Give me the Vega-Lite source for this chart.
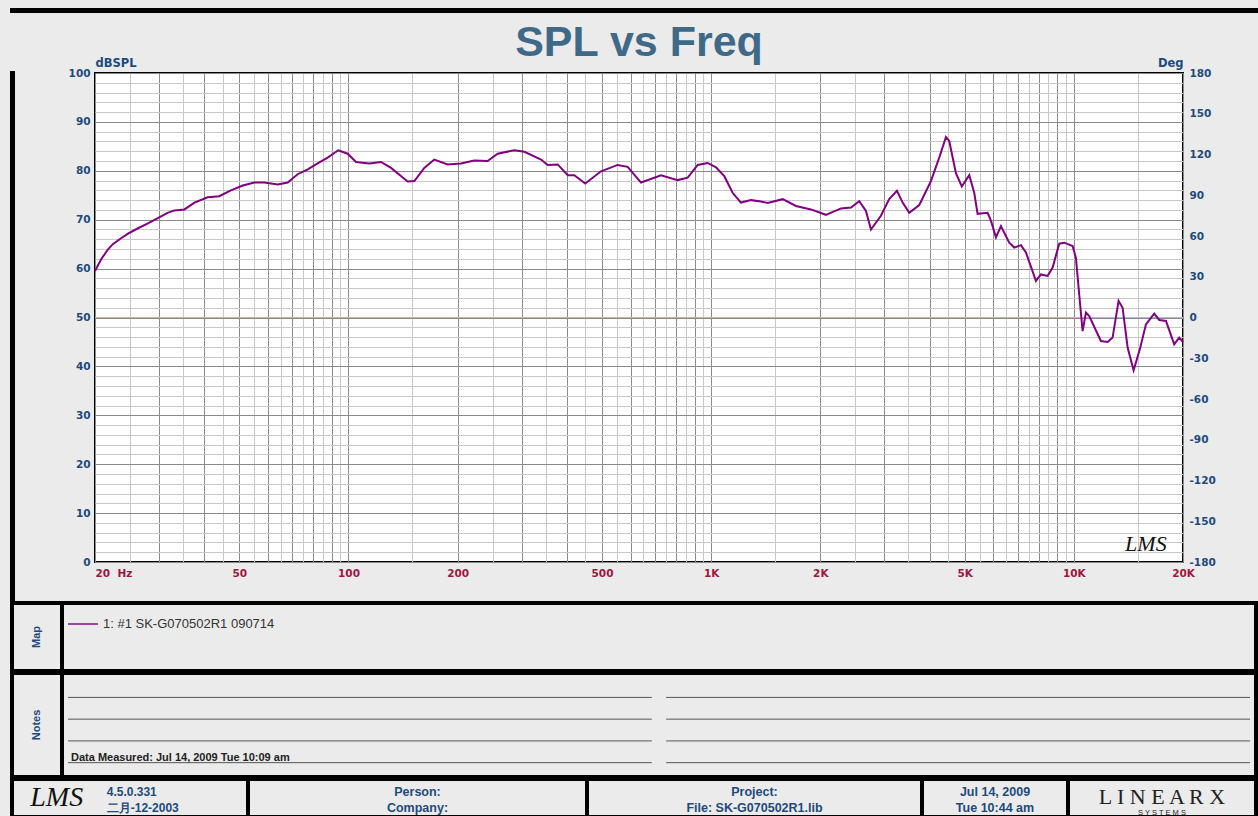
{
  "$schema": "https://vega.github.io/schema/vega-lite/v6.json",
  "background": "#ebebeb",
  "padding": {"left": 10, "top": 8, "right": 0, "bottom": 0},
  "spacing": 8,
  "config": {"view": {"stroke": null}},
  "resolve": {"scale": {"color": "independent"}, "legend": {"color": "independent"}},
  "datasets": {
    "spl": [
      {"f": 20, "spl": 59.5}, {"f": 20.8, "spl": 61.9}, {"f": 21.7, "spl": 63.9}, {"f": 22.4, "spl": 65.0},
      {"f": 23.6, "spl": 66.2}, {"f": 24.6, "spl": 67.1}, {"f": 26.2, "spl": 68.2}, {"f": 27.9, "spl": 69.2},
      {"f": 29.8, "spl": 70.3}, {"f": 31.7, "spl": 71.4}, {"f": 33.1, "spl": 71.9}, {"f": 35.3, "spl": 72.1},
      {"f": 37.6, "spl": 73.5}, {"f": 40.9, "spl": 74.6}, {"f": 44.0, "spl": 74.8}, {"f": 47.4, "spl": 76.0},
      {"f": 51.1, "spl": 77.0}, {"f": 55.0, "spl": 77.6}, {"f": 58.6, "spl": 77.6}, {"f": 63.8, "spl": 77.2},
      {"f": 68.0, "spl": 77.6}, {"f": 72.4, "spl": 79.3}, {"f": 77.2, "spl": 80.3}, {"f": 82.2, "spl": 81.5},
      {"f": 87.6, "spl": 82.7}, {"f": 93.7, "spl": 84.2}, {"f": 99.5, "spl": 83.5}, {"f": 104.9, "spl": 81.8},
      {"f": 114.1, "spl": 81.5}, {"f": 122.9, "spl": 81.8}, {"f": 131.0, "spl": 80.6}, {"f": 145.6, "spl": 77.8},
      {"f": 151.9, "spl": 77.9}, {"f": 161.8, "spl": 80.6}, {"f": 172.4, "spl": 82.3}, {"f": 187.7, "spl": 81.3},
      {"f": 204.2, "spl": 81.5}, {"f": 222.2, "spl": 82.1}, {"f": 241.9, "spl": 82.0}, {"f": 257.8, "spl": 83.5},
      {"f": 286.5, "spl": 84.2}, {"f": 305.5, "spl": 83.9}, {"f": 339.5, "spl": 82.3}, {"f": 354.2, "spl": 81.2},
      {"f": 377.5, "spl": 81.3}, {"f": 402.3, "spl": 79.1}, {"f": 419.5, "spl": 79.1}, {"f": 449.6, "spl": 77.4},
      {"f": 496.9, "spl": 79.9}, {"f": 552.2, "spl": 81.2}, {"f": 588.6, "spl": 80.8}, {"f": 640.5, "spl": 77.6},
      {"f": 727.2, "spl": 79.1}, {"f": 808.6, "spl": 78.1}, {"f": 861.5, "spl": 78.6}, {"f": 918.0, "spl": 81.2},
      {"f": 978.4, "spl": 81.6}, {"f": 1031, "spl": 80.7}, {"f": 1087, "spl": 78.9}, {"f": 1146, "spl": 75.5},
      {"f": 1208, "spl": 73.5}, {"f": 1288, "spl": 74.0}, {"f": 1372, "spl": 73.7}, {"f": 1432, "spl": 73.4},
      {"f": 1575, "spl": 74.2}, {"f": 1713, "spl": 72.8}, {"f": 1884, "spl": 72.1}, {"f": 2072, "spl": 71.0},
      {"f": 2280, "spl": 72.3}, {"f": 2430, "spl": 72.5}, {"f": 2561, "spl": 73.8}, {"f": 2672, "spl": 71.8},
      {"f": 2758, "spl": 68.0}, {"f": 2938, "spl": 70.8}, {"f": 3097, "spl": 74.2}, {"f": 3253, "spl": 75.9},
      {"f": 3373, "spl": 73.5}, {"f": 3518, "spl": 71.4}, {"f": 3748, "spl": 73.0}, {"f": 4036, "spl": 77.9},
      {"f": 4255, "spl": 82.7}, {"f": 4440, "spl": 86.9}, {"f": 4534, "spl": 86.1}, {"f": 4731, "spl": 79.5},
      {"f": 4910, "spl": 76.8}, {"f": 5148, "spl": 79.1}, {"f": 5314, "spl": 75.5}, {"f": 5428, "spl": 71.2},
      {"f": 5784, "spl": 71.4}, {"f": 5908, "spl": 69.8}, {"f": 6099, "spl": 66.4}, {"f": 6296, "spl": 68.7},
      {"f": 6636, "spl": 65.3}, {"f": 6850, "spl": 64.3}, {"f": 7149, "spl": 64.8}, {"f": 7378, "spl": 63.3},
      {"f": 7862, "spl": 57.5}, {"f": 8114, "spl": 58.8}, {"f": 8467, "spl": 58.5}, {"f": 8740, "spl": 60.2},
      {"f": 9115, "spl": 65.1}, {"f": 9410, "spl": 65.3}, {"f": 9924, "spl": 64.6}, {"f": 10134, "spl": 62.2},
      {"f": 10348, "spl": 54.7}, {"f": 10574, "spl": 47.2}, {"f": 10799, "spl": 51.0}, {"f": 11028, "spl": 50.3},
      {"f": 11876, "spl": 45.2}, {"f": 12392, "spl": 45.0}, {"f": 12790, "spl": 45.9}, {"f": 13286, "spl": 53.4},
      {"f": 13628, "spl": 52.0}, {"f": 14076, "spl": 43.8}, {"f": 14618, "spl": 39.2}, {"f": 15244, "spl": 43.8},
      {"f": 15806, "spl": 48.6}, {"f": 16662, "spl": 50.8}, {"f": 17200, "spl": 49.5}, {"f": 17948, "spl": 49.3},
      {"f": 18916, "spl": 44.5}, {"f": 19522, "spl": 45.9}, {"f": 20000, "spl": 45.0}
    ],
    "ref": [{"deg": 0}],
    "logo": [{"f": 15800, "spl": 3.7, "label": "LMS"}],
    "spacer": [{"t": ""}],
    "maplabel": [{"t": "Map"}],
    "noteslabel": [{"t": "Notes"}],
    "map": [{"series": "1: #1 SK-G070502R1 090714"}],
    "notes": [
      {"col": "a", "line": 1}, {"col": "a", "line": 2}, {"col": "a", "line": 3},
      {"col": "a", "line": 4, "text": "Data Measured: Jul 14, 2009  Tue 10:09 am"},
      {"col": "b", "line": 1}, {"col": "b", "line": 2}, {"col": "b", "line": 3}, {"col": "b", "line": 4}
    ],
    "cell1": [{"k": "logo", "t": "LMS"}, {"k": "ver", "t": ["4.5.0.331", "二月-12-2003"]}],
    "cell2": [{"t": ["Person:", "Company:"]}],
    "cell3": [{"t": ["Project:", "File: SK-G070502R1.lib"]}],
    "cell4": [{"t": ["Jul 14, 2009", "Tue 10:44 am"]}],
    "cell5": [{"k": "a", "t": "L I N E A R X"}, {"k": "b", "t": "S   Y   S   T   E   M   S"}]
  },
  "vconcat": [
    {
      "width": 1244,
      "height": 1,
      "data": {"name": "spacer"},
      "view": {"stroke": "black", "strokeWidth": 4},
      "mark": {"type": "text", "fontSize": 0},
      "encoding": {"text": {"field": "t"}}
    },
    {
      "spacing": -4,
      "resolve": {"scale": {"color": "independent"}, "legend": {"color": "independent"}},
      "vconcat": [
        {
          "spacing": 39,
          "hconcat": [
            {
              "width": 1,
              "height": 528,
              "data": {"name": "spacer"},
              "view": {"stroke": "black", "strokeWidth": 4},
              "mark": {"type": "text", "fontSize": 0},
              "encoding": {"text": {"field": "t"}}
            },
            {
              "width": 1088,
              "height": 489,
              "title": {
                "text": "SPL vs Freq",
                "anchor": "middle",
                "frame": "group",
                "font": "Liberation Sans",
                "fontSize": 43,
                "fontWeight": "bold",
                "color": "#3f6a87",
                "offset": -8
              },
              "view": {"fill": "white", "stroke": "black", "strokeWidth": 2},
              "layer": [
                {
                  "data": {"name": "ref"},
                  "mark": {"type": "rule", "color": "#dda0dd", "strokeWidth": 1},
                  "encoding": {
                    "y": {
                      "field": "deg",
                      "type": "quantitative",
                      "scale": {"domain": [-180, 180], "nice": false, "zero": false},
                      "axis": {
                        "orient": "right",
                        "values": [-180, -150, -120, -90, -60, -30, 0, 30, 60, 90, 120, 150, 180],
                        "labelExpr": "'' + datum.value",
                        "grid": false,
                        "ticks": false,
                        "domain": false,
                        "labelOverlap": false,
                        "labelFont": "DejaVu Sans",
                        "labelFontSize": 10.5,
                        "labelFontWeight": "bold",
                        "labelColor": "#1d4a7c",
                        "labelPadding": 6,
                        "title": "Deg",
                        "titleAngle": 0,
                        "titleX": 0,
                        "titleY": -5,
                        "titleAlign": "right",
                        "titleBaseline": "bottom",
                        "titleFont": "DejaVu Sans",
                        "titleFontSize": 11.5,
                        "titleFontWeight": "bold",
                        "titleColor": "#1d4a7c"
                      }
                    }
                  }
                },
                {
                  "layer": [
                    {
                      "data": {"name": "spl"},
                      "mark": {"type": "line", "color": "#800080", "strokeWidth": 2},
                      "encoding": {
                        "x": {
                          "field": "f",
                          "type": "quantitative",
                          "scale": {"type": "log", "domain": [20, 20000], "nice": false},
                          "axis": {
                            "values": [20, 25, 30, 35, 40, 45, 50, 55, 60, 65, 70, 75, 80, 85, 90, 95, 100, 150, 200, 250, 300, 350, 400, 450, 500, 550, 600, 650, 700, 750, 800, 850, 900, 950, 1000, 1500, 2000, 2500, 3000, 3500, 4000, 4500, 5000, 5500, 6000, 6500, 7000, 7500, 8000, 8500, 9000, 9500, 10000, 15000, 20000],
                            "labelExpr": "datum.value === 20 ? '20 \u00a0Hz' : (indexof([50, 100, 200, 500, 1000, 2000, 5000, 10000, 20000], datum.value) >= 0 ? (datum.value >= 1000 ? (datum.value / 1000) + 'K' : '' + datum.value) : '')",
                            "labelAlign": {"condition": {"test": "datum.value === 20", "value": "left"}, "value": "center"},
                            "grid": true,
                            "gridColor": {"condition": {"test": "(datum.value / pow(10, floor(log(datum.value) / LN10 + 1e-9))) % 1 === 0", "value": "#8a8a8a"}, "value": "#c8c8c8"},
                            "gridWidth": 1,
                            "ticks": false,
                            "domain": false,
                            "labelOverlap": false,
                            "labelBound": false,
                            "labelFlush": false,
                            "labelFont": "DejaVu Sans",
                            "labelFontSize": 10.5,
                            "labelFontWeight": "bold",
                            "labelColor": "#a0153e",
                            "labelPadding": 6,
                            "title": null
                          }
                        },
                        "y": {
                          "field": "spl",
                          "type": "quantitative",
                          "scale": {"domain": [0, 100], "nice": false, "zero": false},
                          "axis": {
                            "orient": "left",
                            "values": [0, 2, 4, 6, 8, 10, 12, 14, 16, 18, 20, 22, 24, 26, 28, 30, 32, 34, 36, 38, 40, 42, 44, 46, 48, 50, 52, 54, 56, 58, 60, 62, 64, 66, 68, 70, 72, 74, 76, 78, 80, 82, 84, 86, 88, 90, 92, 94, 96, 98, 100],
                            "labelExpr": "datum.value % 10 === 0 ? '' + datum.value : ''",
                            "grid": true,
                            "gridColor": {"condition": {"test": "datum.value % 10 === 0", "value": "#8a8a8a"}, "value": "#c8c8c8"},
                            "gridWidth": 1,
                            "ticks": false,
                            "domain": false,
                            "labelOverlap": false,
                            "labelFont": "DejaVu Sans",
                            "labelFontSize": 10.5,
                            "labelFontWeight": "bold",
                            "labelColor": "#1d4a7c",
                            "labelPadding": 5,
                            "minExtent": 40,
                            "title": "dBSPL",
                            "titleAngle": 0,
                            "titleX": 0,
                            "titleY": -5,
                            "titleAlign": "left",
                            "titleBaseline": "bottom",
                            "titleFont": "DejaVu Sans",
                            "titleFontSize": 11.5,
                            "titleFontWeight": "bold",
                            "titleColor": "#1d4a7c"
                          }
                        }
                      }
                    },
                    {
                      "data": {"name": "logo"},
                      "mark": {"type": "text", "font": "Liberation Serif", "fontStyle": "italic", "fontSize": 22, "color": "#111111"},
                      "encoding": {
                        "x": {
                          "field": "f",
                          "type": "quantitative",
                          "axis": {
                            "values": [20, 25, 30, 35, 40, 45, 50, 55, 60, 65, 70, 75, 80, 85, 90, 95, 100, 150, 200, 250, 300, 350, 400, 450, 500, 550, 600, 650, 700, 750, 800, 850, 900, 950, 1000, 1500, 2000, 2500, 3000, 3500, 4000, 4500, 5000, 5500, 6000, 6500, 7000, 7500, 8000, 8500, 9000, 9500, 10000, 15000, 20000],
                            "labelExpr": "datum.value === 20 ? '20 \u00a0Hz' : (indexof([50, 100, 200, 500, 1000, 2000, 5000, 10000, 20000], datum.value) >= 0 ? (datum.value >= 1000 ? (datum.value / 1000) + 'K' : '' + datum.value) : '')",
                            "labelAlign": {"condition": {"test": "datum.value === 20", "value": "left"}, "value": "center"},
                            "grid": true,
                            "gridColor": {"condition": {"test": "(datum.value / pow(10, floor(log(datum.value) / LN10 + 1e-9))) % 1 === 0", "value": "#8a8a8a"}, "value": "#c8c8c8"},
                            "gridWidth": 1,
                            "ticks": false,
                            "domain": false,
                            "labelOverlap": false,
                            "labelBound": false,
                            "labelFlush": false,
                            "labelFont": "DejaVu Sans",
                            "labelFontSize": 10.5,
                            "labelFontWeight": "bold",
                            "labelColor": "#a0153e",
                            "labelPadding": 6,
                            "title": null
                          }
                        },
                        "y": {
                          "field": "spl",
                          "type": "quantitative",
                          "axis": {
                            "orient": "left",
                            "values": [0, 2, 4, 6, 8, 10, 12, 14, 16, 18, 20, 22, 24, 26, 28, 30, 32, 34, 36, 38, 40, 42, 44, 46, 48, 50, 52, 54, 56, 58, 60, 62, 64, 66, 68, 70, 72, 74, 76, 78, 80, 82, 84, 86, 88, 90, 92, 94, 96, 98, 100],
                            "labelExpr": "datum.value % 10 === 0 ? '' + datum.value : ''",
                            "grid": true,
                            "gridColor": {"condition": {"test": "datum.value % 10 === 0", "value": "#8a8a8a"}, "value": "#c8c8c8"},
                            "gridWidth": 1,
                            "ticks": false,
                            "domain": false,
                            "labelOverlap": false,
                            "labelFont": "DejaVu Sans",
                            "labelFontSize": 10.5,
                            "labelFontWeight": "bold",
                            "labelColor": "#1d4a7c",
                            "labelPadding": 5,
                            "minExtent": 40,
                            "title": "dBSPL",
                            "titleAngle": 0,
                            "titleX": 0,
                            "titleY": -5,
                            "titleAlign": "left",
                            "titleBaseline": "bottom",
                            "titleFont": "DejaVu Sans",
                            "titleFontSize": 11.5,
                            "titleFontWeight": "bold",
                            "titleColor": "#1d4a7c"
                          }
                        },
                        "text": {"field": "label"}
                      }
                    }
                  ]
                }
              ],
              "resolve": {"scale": {"y": "independent"}}
            }
          ]
        },
        {
          "spacing": -4,
          "resolve": {"scale": {"color": "independent"}, "legend": {"color": "independent"}},
          "vconcat": [
            {
              "spacing": 0,
              "bounds": "flush",
              "resolve": {"scale": {"color": "independent"}, "legend": {"color": "independent"}},
              "hconcat": [
                {
                  "width": 50,
                  "height": 68,
                  "data": {"name": "maplabel"},
                  "view": {"stroke": "black", "strokeWidth": 4},
                  "mark": {"type": "text", "angle": 270, "font": "Liberation Sans", "fontWeight": "bold", "fontSize": 11, "color": "#1d4a7c"},
                  "encoding": {"text": {"field": "t"}}
                },
                {
                  "width": 1194,
                  "height": 68,
                  "data": {"name": "map"},
                  "view": {"stroke": "black", "strokeWidth": 4},
                  "mark": {"type": "point", "size": 0, "strokeWidth": 2, "filled": false},
                  "encoding": {
                    "color": {
                      "field": "series",
                      "type": "nominal",
                      "scale": {"range": ["#800080"]},
                      "legend": {
                        "orient": "top-left",
                        "offset": 5,
                        "title": null,
                        "padding": 0,
                        "symbolType": "stroke",
                        "symbolSize": 900,
                        "symbolStrokeWidth": 2,
                        "labelFont": "Liberation Sans",
                        "labelFontSize": 13,
                        "labelColor": "#333333",
                        "labelOffset": 4,
                        "labelLimit": 500
                      }
                    }
                  }
                }
              ]
            },
            {
              "spacing": 0,
              "bounds": "flush",
              "hconcat": [
                {
                  "width": 50,
                  "height": 104,
                  "data": {"name": "noteslabel"},
                  "view": {"stroke": "black", "strokeWidth": 4},
                  "mark": {"type": "text", "angle": 270, "font": "Liberation Sans", "fontWeight": "bold", "fontSize": 11, "color": "#1d4a7c"},
                  "encoding": {"text": {"field": "t"}}
                },
                {
                  "width": 1194,
                  "height": 104,
                  "data": {"name": "notes"},
                  "view": {"stroke": "black", "strokeWidth": 4},
                  "layer": [
                    {
                      "mark": {"type": "rule", "color": "#555555", "strokeWidth": 1},
                      "encoding": {
                        "x": {"field": "col", "type": "nominal", "bandPosition": 0, "scale": {"type": "band", "paddingInner": 0.024, "paddingOuter": 0.01}, "axis": null},
                        "x2": {"field": "col", "bandPosition": 1},
                        "y": {"field": "line", "type": "ordinal", "scale": {"type": "point", "padding": 0.89, "align": 0.63}, "axis": null}
                      }
                    },
                    {
                      "transform": [{"filter": "datum.text"}],
                      "mark": {"type": "text", "align": "left", "baseline": "bottom", "font": "Liberation Sans", "fontWeight": "bold", "fontSize": 11, "color": "#222222", "dx": 3},
                      "encoding": {
                        "x": {"field": "col", "type": "nominal", "bandPosition": 0},
                        "y": {"field": "line", "type": "ordinal"},
                        "text": {"field": "text"}
                      }
                    }
                  ]
                }
              ]
            },
            {
              "spacing": 0,
              "bounds": "flush",
              "hconcat": [
                {
                  "width": 236,
                  "height": 38,
                  "data": {"name": "cell1"},
                  "view": {"stroke": "black", "strokeWidth": 4},
                  "layer": [
                    {
                      "transform": [{"filter": "datum.k === 'logo'"}],
                      "mark": {"type": "text", "font": "Liberation Serif", "fontStyle": "italic", "fontSize": 28, "color": "#111111"},
                      "encoding": {
                        "x": {"field": "k", "type": "nominal", "scale": {"type": "point", "domain": ["logo", "ver", "p1", "p2"], "padding": 0.86, "align": 0.52}, "axis": null},
                        "text": {"field": "t"}
                      }
                    },
                    {
                      "transform": [{"filter": "datum.k === 'ver'"}],
                      "mark": {"type": "text", "align": "left", "font": "Liberation Sans", "fontWeight": "bold", "fontSize": 12, "lineHeight": 16, "color": "#1d4a7c", "dy": -6},
                      "encoding": {
                        "x": {"field": "k", "type": "nominal"},
                        "text": {"field": "t"}
                      }
                    }
                  ]
                },
                {
                  "width": 339,
                  "height": 38,
                  "data": {"name": "cell2"},
                  "view": {"stroke": "black", "strokeWidth": 4},
                  "mark": {"type": "text", "font": "Liberation Sans", "fontWeight": "bold", "fontSize": 12.5, "lineHeight": 16, "color": "#1d4a7c", "dy": -6},
                  "encoding": {"text": {"field": "t"}}
                },
                {
                  "width": 335,
                  "height": 38,
                  "data": {"name": "cell3"},
                  "view": {"stroke": "black", "strokeWidth": 4},
                  "mark": {"type": "text", "font": "Liberation Sans", "fontWeight": "bold", "fontSize": 12.5, "lineHeight": 16, "color": "#1d4a7c", "dy": -6},
                  "encoding": {"text": {"field": "t"}}
                },
                {
                  "width": 146,
                  "height": 38,
                  "data": {"name": "cell4"},
                  "view": {"stroke": "black", "strokeWidth": 4},
                  "mark": {"type": "text", "font": "Liberation Sans", "fontWeight": "bold", "fontSize": 12.5, "lineHeight": 16, "color": "#1d4a7c", "dy": -6},
                  "encoding": {"text": {"field": "t"}}
                },
                {
                  "width": 188,
                  "height": 38,
                  "data": {"name": "cell5"},
                  "view": {"stroke": "black", "strokeWidth": 4},
                  "layer": [
                    {
                      "transform": [{"filter": "datum.k === 'a'"}],
                      "mark": {"type": "text", "font": "Liberation Serif", "fontSize": 22, "color": "#222222", "baseline": "middle"},
                      "encoding": {
                        "y": {"field": "k", "type": "nominal", "scale": {"type": "point", "domain": ["a", "b"], "padding": 0.6875, "align": 0.818}, "axis": null},
                        "text": {"field": "t"}
                      }
                    },
                    {
                      "transform": [{"filter": "datum.k === 'b'"}],
                      "mark": {"type": "text", "font": "Liberation Sans", "fontSize": 7.5, "color": "#222222", "baseline": "middle"},
                      "encoding": {
                        "y": {"field": "k", "type": "nominal"},
                        "text": {"field": "t"}
                      }
                    }
                  ]
                }
              ]
            }
          ]
        }
      ]
    }
  ]
}
